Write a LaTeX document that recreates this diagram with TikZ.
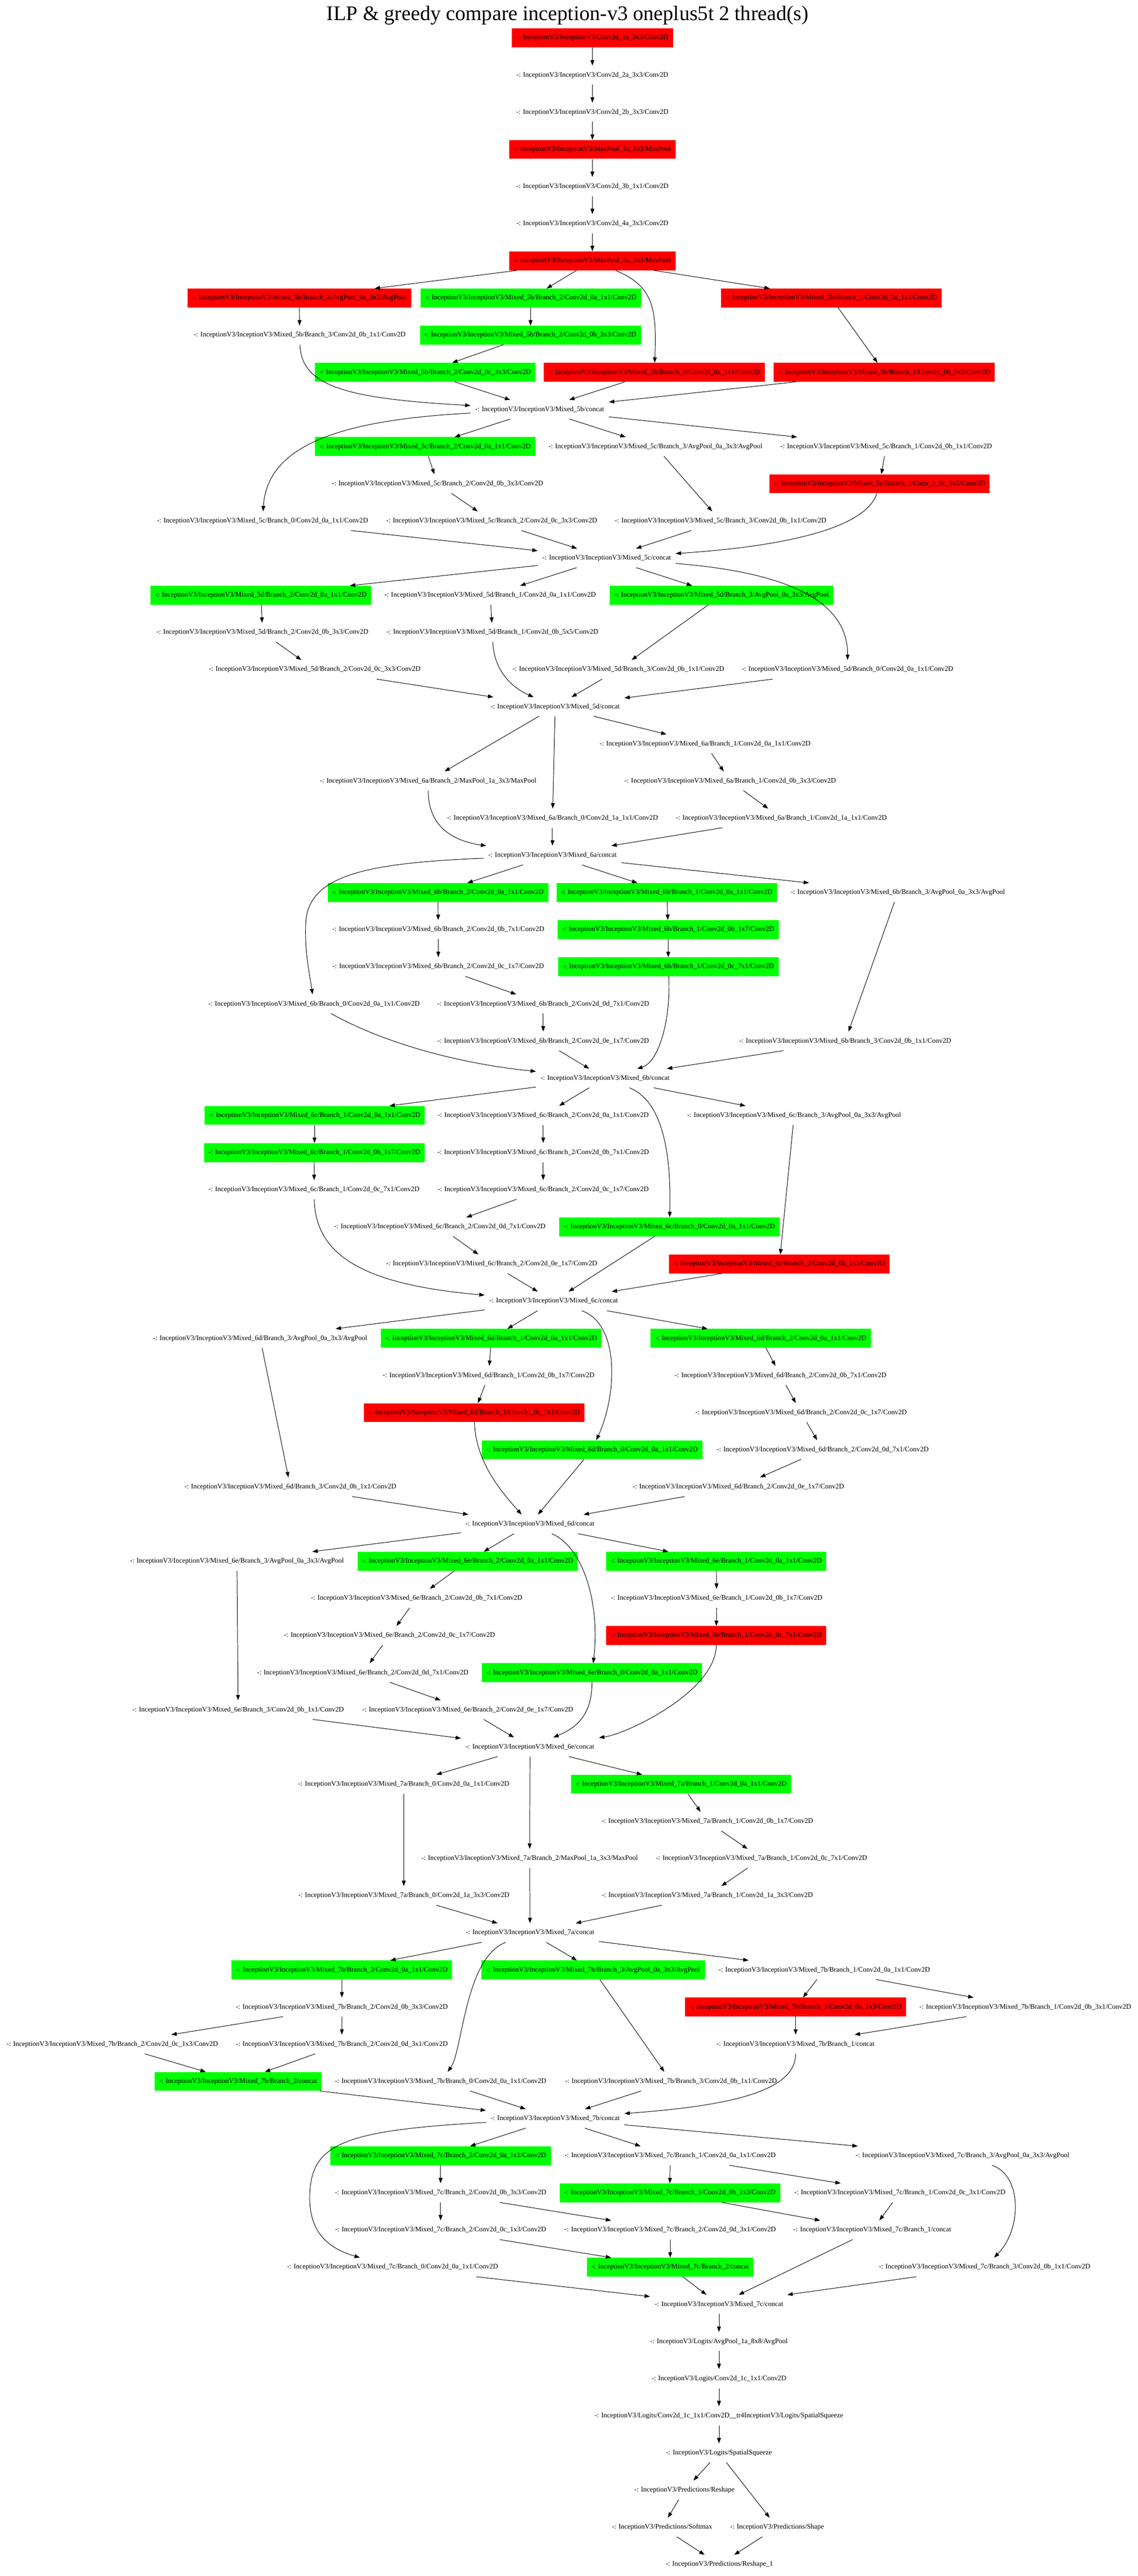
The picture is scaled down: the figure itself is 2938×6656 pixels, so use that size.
\documentclass[tikz,border=0pt]{standalone}
\usepackage{fontspec}
\setmainfont{Liberation Serif}
\usetikzlibrary{arrows.meta}
\definecolor{vred}{RGB}{255,0,0}
\definecolor{vgreen}{RGB}{0,255,0}
\tikzset{
  basenode/.style={rectangle, minimum height=49pt, inner xsep=12pt, inner ysep=0pt,
    font=\fontsize{18}{20}\selectfont, text height=12.5pt, text depth=3.5pt},
  wn/.style={basenode},
  rn/.style={basenode, fill=vred},
  gn/.style={basenode, fill=vgreen},
  ed/.style={-{Triangle[length=14pt,width=10pt]}, line width=1.3pt},
}
\newcommand{\nd}[5]{\node[#1] (#2) at (#3,{98+96*(#4)}) {-: InceptionV3/InceptionV3/\detokenize{#5}};}
\newcommand{\nl}[5]{\node[#1] (#2) at (#3,{98+96*(#4)}) {-: \detokenize{#5}};}
\begin{document}
\begin{tikzpicture}[x=1pt,y=-1pt]
\useasboundingbox (0,0) rectangle (2938,6656);
\node[font=\fontsize{53.7}{60}\selectfont, anchor=base] (title) at (1466,53) {ILP \& greedy compare inception-v3 oneplus5t 2 thread(s)};
% stem
\nd{rn}{n1}{1530}{0}{Conv2d_1a_3x3/Conv2D}
\nd{wn}{n2}{1530}{1}{Conv2d_2a_3x3/Conv2D}
\nd{wn}{n3}{1530}{2}{Conv2d_2b_3x3/Conv2D}
\nd{rn}{n4}{1530}{3}{MaxPool_3a_3x3/MaxPool}
\nd{wn}{n5}{1530}{4}{Conv2d_3b_1x1/Conv2D}
\nd{wn}{n6}{1530}{5}{Conv2d_4a_3x3/Conv2D}
\nd{rn}{n7}{1530}{6}{MaxPool_5a_3x3/MaxPool}
% 5b
\nd{rn}{b5b3a}{773}{7}{Mixed_5b/Branch_3/AvgPool_0a_3x3/AvgPool}
\nd{gn}{b5b2a}{1371}{7}{Mixed_5b/Branch_2/Conv2d_0a_1x1/Conv2D}
\nd{rn}{b5b1a}{2147}{7}{Mixed_5b/Branch_1/Conv2d_0a_1x1/Conv2D}
\nd{wn}{b5b3b}{774}{8}{Mixed_5b/Branch_3/Conv2d_0b_1x1/Conv2D}
\nd{gn}{b5b2b}{1370}{8}{Mixed_5b/Branch_2/Conv2d_0b_3x3/Conv2D}
\nd{gn}{b5b2c}{1098}{9}{Mixed_5b/Branch_2/Conv2d_0c_3x3/Conv2D}
\nd{rn}{b5b0a}{1690}{9}{Mixed_5b/Branch_0/Conv2d_0a_1x1/Conv2D}
\nd{rn}{b5b1b}{2284}{9}{Mixed_5b/Branch_1/Conv2d_0b_5x5/Conv2D}
\nd{wn}{c5b}{1394}{10}{Mixed_5b/concat}
% 5c
\nd{gn}{c5c2a}{1098}{11}{Mixed_5c/Branch_2/Conv2d_0a_1x1/Conv2D}
\nd{wn}{c5c3a}{1693}{11}{Mixed_5c/Branch_3/AvgPool_0a_3x3/AvgPool}
\nd{wn}{c5c1a}{2289}{11}{Mixed_5c/Branch_1/Conv2d_0b_1x1/Conv2D}
\nd{wn}{c5c2b}{1130}{12}{Mixed_5c/Branch_2/Conv2d_0b_3x3/Conv2D}
\nd{rn}{c5c1b}{2272}{12}{Mixed_5c/Branch_1/Conv_1_0c_5x5/Conv2D}
\nd{wn}{c5c0a}{678}{13}{Mixed_5c/Branch_0/Conv2d_0a_1x1/Conv2D}
\nd{wn}{c5c2c}{1270}{13}{Mixed_5c/Branch_2/Conv2d_0c_3x3/Conv2D}
\nd{wn}{c5c3b}{1861}{13}{Mixed_5c/Branch_3/Conv2d_0b_1x1/Conv2D}
\nd{wn}{c5c}{1567}{14}{Mixed_5c/concat}
% 5d
\nd{gn}{d5d2a}{674}{15}{Mixed_5d/Branch_2/Conv2d_0a_1x1/Conv2D}
\nd{wn}{d5d1a}{1266}{15}{Mixed_5d/Branch_1/Conv2d_0a_1x1/Conv2D}
\nd{gn}{d5d3a}{1864}{15}{Mixed_5d/Branch_3/AvgPool_0a_3x3/AvgPool}
\nd{wn}{d5d2b}{678}{16}{Mixed_5d/Branch_2/Conv2d_0b_3x3/Conv2D}
\nd{wn}{d5d1b}{1272}{16}{Mixed_5d/Branch_1/Conv2d_0b_5x5/Conv2D}
\nd{wn}{d5d2c}{813}{17}{Mixed_5d/Branch_2/Conv2d_0c_3x3/Conv2D}
\nd{wn}{d5d3b}{1597}{17}{Mixed_5d/Branch_3/Conv2d_0b_1x1/Conv2D}
\nd{wn}{d5d0a}{2189}{17}{Mixed_5d/Branch_0/Conv2d_0a_1x1/Conv2D}
\nd{wn}{c5d}{1434}{18}{Mixed_5d/concat}
% 6a
\nd{wn}{e6a1a}{1821}{19}{Mixed_6a/Branch_1/Conv2d_0a_1x1/Conv2D}
\nd{wn}{e6a2}{1106}{20}{Mixed_6a/Branch_2/MaxPool_1a_3x3/MaxPool}
\nd{wn}{e6a1b}{1886}{20}{Mixed_6a/Branch_1/Conv2d_0b_3x3/Conv2D}
\nd{wn}{e6a0}{1427}{21}{Mixed_6a/Branch_0/Conv2d_1a_1x1/Conv2D}
\nd{wn}{e6a1c}{2018}{21}{Mixed_6a/Branch_1/Conv2d_1a_1x1/Conv2D}
\nd{wn}{c6a}{1427}{22}{Mixed_6a/concat}
% 6b
\nd{gn}{f6b2a}{1131}{23}{Mixed_6b/Branch_2/Conv2d_0a_1x1/Conv2D}
\nd{gn}{f6b1a}{1722}{23}{Mixed_6b/Branch_1/Conv2d_0a_1x1/Conv2D}
\nd{wn}{f6b3a}{2319}{23}{Mixed_6b/Branch_3/AvgPool_0a_3x3/AvgPool}
\nd{wn}{f6b2b}{1132}{24}{Mixed_6b/Branch_2/Conv2d_0b_7x1/Conv2D}
\nd{gn}{f6b1b}{1726}{24}{Mixed_6b/Branch_1/Conv2d_0b_1x7/Conv2D}
\nd{wn}{f6b2c}{1132}{25}{Mixed_6b/Branch_2/Conv2d_0c_1x7/Conv2D}
\nd{gn}{f6b1c}{1726}{25}{Mixed_6b/Branch_1/Conv2d_0c_7x1/Conv2D}
\nd{wn}{f6b0a}{811}{26}{Mixed_6b/Branch_0/Conv2d_0a_1x1/Conv2D}
\nd{wn}{f6b2d}{1403}{26}{Mixed_6b/Branch_2/Conv2d_0d_7x1/Conv2D}
\nd{wn}{f6b2e}{1403}{27}{Mixed_6b/Branch_2/Conv2d_0e_1x7/Conv2D}
\nd{wn}{f6b3b}{2183}{27}{Mixed_6b/Branch_3/Conv2d_0b_1x1/Conv2D}
\nd{wn}{c6b}{1563}{28}{Mixed_6b/concat}
% 6c
\nd{gn}{g6c1a}{813}{29}{Mixed_6c/Branch_1/Conv2d_0a_1x1/Conv2D}
\nd{wn}{g6c2a}{1403}{29}{Mixed_6c/Branch_2/Conv2d_0a_1x1/Conv2D}
\nd{wn}{g6c3a}{2051}{29}{Mixed_6c/Branch_3/AvgPool_0a_3x3/AvgPool}
\nd{gn}{g6c1b}{812}{30}{Mixed_6c/Branch_1/Conv2d_0b_1x7/Conv2D}
\nd{wn}{g6c2b}{1403}{30}{Mixed_6c/Branch_2/Conv2d_0b_7x1/Conv2D}
\nd{wn}{g6c1c}{811}{31}{Mixed_6c/Branch_1/Conv2d_0c_7x1/Conv2D}
\nd{wn}{g6c2c}{1403}{31}{Mixed_6c/Branch_2/Conv2d_0c_1x7/Conv2D}
\nd{wn}{g6c2d}{1136}{32}{Mixed_6c/Branch_2/Conv2d_0d_7x1/Conv2D}
\nd{gn}{g6c0a}{1729}{32}{Mixed_6c/Branch_0/Conv2d_0a_1x1/Conv2D}
\nd{wn}{g6c2e}{1270}{33}{Mixed_6c/Branch_2/Conv2d_0e_1x7/Conv2D}
\nd{rn}{g6c3b}{2013}{33}{Mixed_6c/Branch_3/Conv2d_0b_1x1/Conv2D}
\nd{wn}{c6c}{1430}{34}{Mixed_6c/concat}
% 6d
\nd{wn}{h6d3a}{672}{35}{Mixed_6d/Branch_3/AvgPool_0a_3x3/AvgPool}
\nd{gn}{h6d1a}{1269}{35}{Mixed_6d/Branch_1/Conv2d_0a_1x1/Conv2D}
\nd{gn}{h6d2a}{1965}{35}{Mixed_6d/Branch_2/Conv2d_0a_1x1/Conv2D}
\nd{wn}{h6d1b}{1262}{36}{Mixed_6d/Branch_1/Conv2d_0b_1x7/Conv2D}
\nd{wn}{h6d2b}{2016}{36}{Mixed_6d/Branch_2/Conv2d_0b_7x1/Conv2D}
\nd{rn}{h6d1c}{1225}{37}{Mixed_6d/Branch_1/Conv2d_0c_7x1/Conv2D}
\nd{wn}{h6d2c}{2069}{37}{Mixed_6d/Branch_2/Conv2d_0c_1x7/Conv2D}
\nd{gn}{h6d0a}{1529}{38}{Mixed_6d/Branch_0/Conv2d_0a_1x1/Conv2D}
\nd{wn}{h6d2d}{2125}{38}{Mixed_6d/Branch_2/Conv2d_0d_7x1/Conv2D}
\nd{wn}{h6d3b}{750}{39}{Mixed_6d/Branch_3/Conv2d_0b_1x1/Conv2D}
\nd{wn}{h6d2e}{1907}{39}{Mixed_6d/Branch_2/Conv2d_0e_1x7/Conv2D}
\nd{wn}{c6d}{1369}{40}{Mixed_6d/concat}
% 6e
\nd{wn}{i6e3a}{612}{41}{Mixed_6e/Branch_3/AvgPool_0a_3x3/AvgPool}
\nd{gn}{i6e2a}{1208}{41}{Mixed_6e/Branch_2/Conv2d_0a_1x1/Conv2D}
\nd{gn}{i6e1a}{1850}{41}{Mixed_6e/Branch_1/Conv2d_0a_1x1/Conv2D}
\nd{wn}{i6e2b}{1076}{42}{Mixed_6e/Branch_2/Conv2d_0b_7x1/Conv2D}
\nd{wn}{i6e1b}{1851}{42}{Mixed_6e/Branch_1/Conv2d_0b_1x7/Conv2D}
\nd{wn}{i6e2c}{1006}{43}{Mixed_6e/Branch_2/Conv2d_0c_1x7/Conv2D}
\nd{rn}{i6e1c}{1850}{43}{Mixed_6e/Branch_1/Conv2d_0c_7x1/Conv2D}
\nd{wn}{i6e2d}{937}{44}{Mixed_6e/Branch_2/Conv2d_0d_7x1/Conv2D}
\nd{gn}{i6e0a}{1529}{44}{Mixed_6e/Branch_0/Conv2d_0a_1x1/Conv2D}
\nd{wn}{i6e3b}{615}{45}{Mixed_6e/Branch_3/Conv2d_0b_1x1/Conv2D}
\nd{wn}{i6e2e}{1208}{45}{Mixed_6e/Branch_2/Conv2d_0e_1x7/Conv2D}
\nd{wn}{c6e}{1369}{46}{Mixed_6e/concat}
% 7a
\nd{wn}{j7a0a}{1043}{47}{Mixed_7a/Branch_0/Conv2d_0a_1x1/Conv2D}
\nd{gn}{j7a1a}{1759}{47}{Mixed_7a/Branch_1/Conv2d_0a_1x1/Conv2D}
\nd{wn}{j7a1b}{1827}{48}{Mixed_7a/Branch_1/Conv2d_0b_1x7/Conv2D}
\nd{wn}{j7a2}{1368}{49}{Mixed_7a/Branch_2/MaxPool_1a_3x3/MaxPool}
\nd{wn}{j7a1c}{1967}{49}{Mixed_7a/Branch_1/Conv2d_0c_7x1/Conv2D}
\nd{wn}{j7a0b}{1043}{50}{Mixed_7a/Branch_0/Conv2d_1a_3x3/Conv2D}
\nd{wn}{j7a1d}{1827}{50}{Mixed_7a/Branch_1/Conv2d_1a_3x3/Conv2D}
\nd{wn}{c7a}{1369}{51}{Mixed_7a/concat}
% 7b
\nd{gn}{k7b2a}{883}{52}{Mixed_7b/Branch_2/Conv2d_0a_1x1/Conv2D}
\nd{gn}{k7b3a}{1532}{52}{Mixed_7b/Branch_3/AvgPool_0a_3x3/AvgPool}
\nd{wn}{k7b1a}{2129}{52}{Mixed_7b/Branch_1/Conv2d_0a_1x1/Conv2D}
\nd{wn}{k7b2b}{883}{53}{Mixed_7b/Branch_2/Conv2d_0b_3x3/Conv2D}
\nd{rn}{k7b1b}{2055}{53}{Mixed_7b/Branch_1/Conv2d_0b_1x3/Conv2D}
\nd{wn}{k7b1c}{2648}{53}{Mixed_7b/Branch_1/Conv2d_0b_3x1/Conv2D}
\nd{wn}{k7b2c}{290}{54}{Mixed_7b/Branch_2/Conv2d_0c_1x3/Conv2D}
\nd{wn}{k7b2d}{883}{54}{Mixed_7b/Branch_2/Conv2d_0d_3x1/Conv2D}
\nd{wn}{k7b1cat}{2055}{54}{Mixed_7b/Branch_1/concat}
\nd{gn}{k7b2cat}{615}{55}{Mixed_7b/Branch_2/concat}
\nd{wn}{k7b0a}{1138}{55}{Mixed_7b/Branch_0/Conv2d_0a_1x1/Conv2D}
\nd{wn}{k7b3b}{1733}{55}{Mixed_7b/Branch_3/Conv2d_0b_1x1/Conv2D}
\nd{wn}{c7b}{1434}{56}{Mixed_7b/concat}
% 7c
\nd{gn}{l7c2a}{1138}{57}{Mixed_7c/Branch_2/Conv2d_0a_1x1/Conv2D}
\nd{wn}{l7c1a}{1731}{57}{Mixed_7c/Branch_1/Conv2d_0a_1x1/Conv2D}
\nd{wn}{l7c3a}{2486}{57}{Mixed_7c/Branch_3/AvgPool_0a_3x3/AvgPool}
\nd{wn}{l7c2b}{1138}{58}{Mixed_7c/Branch_2/Conv2d_0b_3x3/Conv2D}
\nd{gn}{l7c1b}{1730}{58}{Mixed_7c/Branch_1/Conv2d_0b_1x3/Conv2D}
\nd{wn}{l7c1c}{2324}{58}{Mixed_7c/Branch_1/Conv2d_0c_3x1/Conv2D}
\nd{wn}{l7c2c}{1138}{59}{Mixed_7c/Branch_2/Conv2d_0c_1x3/Conv2D}
\nd{wn}{l7c2d}{1731}{59}{Mixed_7c/Branch_2/Conv2d_0d_3x1/Conv2D}
\nd{wn}{l7c1cat}{2253}{59}{Mixed_7c/Branch_1/concat}
\nd{wn}{l7c0a}{1014}{60}{Mixed_7c/Branch_0/Conv2d_0a_1x1/Conv2D}
\nd{gn}{l7c2cat}{1731}{60}{Mixed_7c/Branch_2/concat}
\nd{wn}{l7c3b}{2543}{60}{Mixed_7c/Branch_3/Conv2d_0b_1x1/Conv2D}
\nd{wn}{c7c}{1857}{61}{Mixed_7c/concat}
% logits
\nl{wn}{m1}{1857}{62}{InceptionV3/Logits/AvgPool_1a_8x8/AvgPool}
\nl{wn}{m2}{1857}{63}{InceptionV3/Logits/Conv2d_1c_1x1/Conv2D}
\nl{wn}{m3}{1857}{64}{InceptionV3/Logits/Conv2d_1c_1x1/Conv2D__tr4InceptionV3/Logits/SpatialSqueeze}
\nl{wn}{m4}{1857}{65}{InceptionV3/Logits/SpatialSqueeze}
\nl{wn}{m5}{1768}{66}{InceptionV3/Predictions/Reshape}
\nl{wn}{m6}{1710}{67}{InceptionV3/Predictions/Softmax}
\nl{wn}{m7}{2007}{67}{InceptionV3/Predictions/Shape}
\nl{wn}{m8}{1858}{68}{InceptionV3/Predictions/Reshape_1}
% straight edges
\foreach \a/\b in {n1/n2,n2/n3,n3/n4,n4/n5,n5/n6,n6/n7,
  n7/b5b3a,n7/b5b2a,n7/b5b1a,b5b3a/b5b3b,b5b2a/b5b2b,b5b2b/b5b2c,b5b1a/b5b1b,
  b5b2c/c5b,b5b0a/c5b,b5b1b/c5b,
  c5b/c5c2a,c5b/c5c3a,c5b/c5c1a,c5c2a/c5c2b,c5c2b/c5c2c,c5c3a/c5c3b,c5c1a/c5c1b,
  c5c0a/c5c,c5c2c/c5c,c5c3b/c5c,
  c5c/d5d2a,c5c/d5d1a,c5c/d5d3a,d5d2a/d5d2b,d5d2b/d5d2c,d5d1a/d5d1b,d5d3a/d5d3b,
  d5d2c/c5d,d5d3b/c5d,d5d0a/c5d,
  c5d/e6a1a,c5d/e6a2,c5d/e6a0,e6a1a/e6a1b,e6a1b/e6a1c,e6a0/c6a,e6a1c/c6a,
  c6a/f6b2a,c6a/f6b1a,c6a/f6b3a,f6b2a/f6b2b,f6b2b/f6b2c,f6b2c/f6b2d,f6b2d/f6b2e,
  f6b1a/f6b1b,f6b1b/f6b1c,f6b3a/f6b3b,f6b2e/c6b,f6b3b/c6b,
  c6b/g6c1a,c6b/g6c2a,c6b/g6c3a,g6c1a/g6c1b,g6c1b/g6c1c,g6c2a/g6c2b,g6c2b/g6c2c,
  g6c2c/g6c2d,g6c2d/g6c2e,g6c2e/c6c,g6c0a/c6c,g6c3a/g6c3b,g6c3b/c6c,
  c6c/h6d3a,c6c/h6d1a,c6c/h6d2a,h6d3a/h6d3b,h6d1a/h6d1b,h6d1b/h6d1c,
  h6d2a/h6d2b,h6d2b/h6d2c,h6d2c/h6d2d,h6d2d/h6d2e,h6d2e/c6d,h6d0a/c6d,h6d3b/c6d,
  c6d/i6e3a,c6d/i6e2a,c6d/i6e1a,i6e3a/i6e3b,i6e2a/i6e2b,i6e2b/i6e2c,i6e2c/i6e2d,
  i6e2d/i6e2e,i6e1a/i6e1b,i6e1b/i6e1c,i6e3b/c6e,i6e2e/c6e,
  c6e/j7a0a,c6e/j7a2,c6e/j7a1a,j7a0a/j7a0b,j7a1a/j7a1b,j7a1b/j7a1c,j7a1c/j7a1d,
  j7a0b/c7a,j7a2/c7a,j7a1d/c7a,
  c7a/k7b2a,c7a/k7b3a,c7a/k7b1a,k7b2a/k7b2b,k7b2b/k7b2c,k7b2b/k7b2d,k7b2c/k7b2cat,
  k7b2d/k7b2cat,k7b3a/k7b3b,k7b1a/k7b1b,k7b1a/k7b1c,k7b1b/k7b1cat,k7b1c/k7b1cat,
  k7b2cat/c7b,k7b0a/c7b,k7b3b/c7b,
  c7b/l7c2a,c7b/l7c1a,c7b/l7c3a,l7c2a/l7c2b,l7c2b/l7c2c,l7c2b/l7c2d,l7c2c/l7c2cat,
  l7c2d/l7c2cat,l7c1a/l7c1b,l7c1a/l7c1c,l7c1b/l7c1cat,l7c1c/l7c1cat,
  l7c0a/c7c,l7c2cat/c7c,l7c1cat/c7c,l7c3b/c7c,
  c7c/m1,m1/m2,m2/m3,m3/m4,m4/m5,m4/m7,m5/m6,m6/m8,m7/m8}
  \draw[ed] (\a) -- (\b);
% curved edges
\draw[ed] (n7) .. controls (1690,740) and (1696,800) .. (b5b0a);
\draw[ed] (b5b3b) .. controls (778,1000) and (900,1030) .. (c5b);
\draw[ed] (c5b) .. controls (880,1085) and (690,1150) .. (c5c0a);
\draw[ed] (c5c1b) .. controls (2230,1390) and (1900,1420) .. (c5c);
\draw[ed] (c5c) .. controls (2050,1480) and (2190,1560) .. (d5d0a);
\draw[ed] (d5d1b) .. controls (1276,1740) and (1330,1780) .. (c5d);
\draw[ed] (e6a2) .. controls (1106,2120) and (1150,2170) .. (c6a);
\draw[ed] (c6a) .. controls (950,2230) and (800,2260) .. (790,2380) .. controls (785,2450) and (800,2520) .. (f6b0a);
\draw[ed] (f6b0a) .. controls (1000,2700) and (1200,2750) .. (c6b);
\draw[ed] (f6b1c) .. controls (1733,2640) and (1700,2745) .. (c6b);
\draw[ed] (c6b) .. controls (1700,2840) and (1735,2950) .. (g6c0a);
\draw[ed] (g6c1c) .. controls (815,3250) and (950,3320) .. (c6c);
\draw[ed] (c6c) .. controls (1600,3420) and (1595,3600) .. (h6d0a);
\draw[ed] (h6d1c) .. controls (1228,3780) and (1300,3860) .. (c6d);
\draw[ed] (c6d) .. controls (1510,4000) and (1550,4150) .. (i6e0a);
\draw[ed] (i6e1c) .. controls (1850,4370) and (1620,4480) .. (c6e);
\draw[ed] (i6e0a) .. controls (1529,4420) and (1500,4460) .. (c6e);
\draw[ed] (c7a) .. controls (1200,5060) and (1195,5300) .. (k7b0a);
\draw[ed] (k7b1cat) .. controls (2055,5400) and (1900,5440) .. (c7b);
\draw[ed] (c7b) .. controls (880,5505) and (800,5540) .. (800,5680) .. controls (800,5770) and (850,5810) .. (l7c0a);
\draw[ed] (l7c3a) .. controls (2640,5620) and (2640,5760) .. (l7c3b);
\end{tikzpicture}
\end{document}
